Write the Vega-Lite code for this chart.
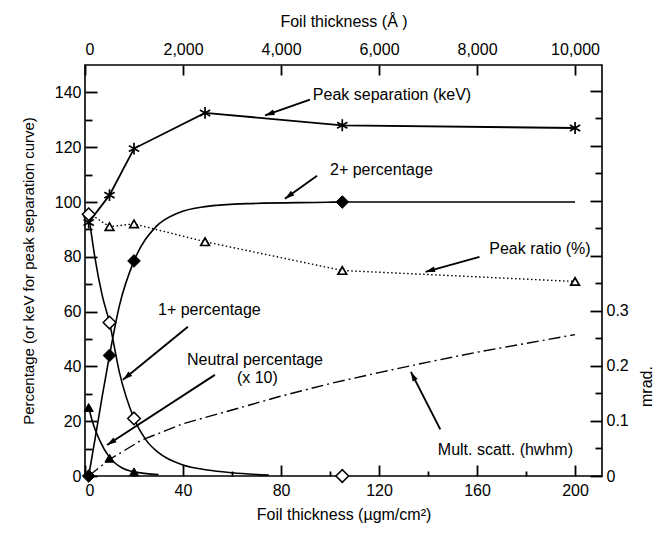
{
  "$schema": "https://vega.github.io/schema/vega-lite/v6.json",
  "width": 517,
  "height": 411,
  "autosize": {"type": "none"},
  "padding": {"left": 85, "top": 65, "right": 63, "bottom": 57},
  "config": {
    "view": {"stroke": "black", "strokeWidth": 1.6},
    "font": "Liberation Sans",
    "axis": {
      "domain": false,
      "ticks": true, "tickOpacity": 1, "zindex": 1,
      "tickColor": "black", "tickWidth": 1.8,
      "labelColor": "black", "titleColor": "black",
      "labelFontSize": 16, "titleFontSize": 16, "titleFontWeight": "normal",
      "labelFont": "Liberation Sans", "titleFont": "Liberation Sans",
      "grid": false
    },
    "text": {"font": "Liberation Sans"}
  },
  "datasets": {
    "markers": [
      {"s": "peak", "x": 1.5, "y": 92.5}, {"s": "peak", "x": 10, "y": 102.5}, {"s": "peak", "x": 20, "y": 119.5},
      {"s": "peak", "x": 49, "y": 132.5}, {"s": "peak", "x": 105, "y": 128}, {"s": "peak", "x": 200, "y": 127},
      {"s": "ratio", "x": 1.5, "y": 96}, {"s": "ratio", "x": 10, "y": 91}, {"s": "ratio", "x": 20, "y": 92},
      {"s": "ratio", "x": 49, "y": 85.5}, {"s": "ratio", "x": 105, "y": 75}, {"s": "ratio", "x": 200, "y": 71},
      {"s": "one", "x": 1.5, "y": 95.5}, {"s": "one", "x": 10, "y": 56}, {"s": "one", "x": 20, "y": 21}, {"s": "one", "x": 105, "y": 0},
      {"s": "two", "x": 1.5, "y": 0}, {"s": "two", "x": 10, "y": 44}, {"s": "two", "x": 20, "y": 78.5}, {"s": "two", "x": 105, "y": 100},
      {"s": "neutral", "x": 1.5, "y": 25}, {"s": "neutral", "x": 10, "y": 6.5}, {"s": "neutral", "x": 20, "y": 1.5}
    ],
    "curves": [
      {"s": "one", "x": 1.5, "y": 95.5}, {"s": "one", "x": 4, "y": 80}, {"s": "one", "x": 7, "y": 66}, {"s": "one", "x": 10, "y": 56},
      {"s": "one", "x": 14, "y": 38}, {"s": "one", "x": 20, "y": 21}, {"s": "one", "x": 25, "y": 13}, {"s": "one", "x": 30, "y": 8.5},
      {"s": "one", "x": 40, "y": 4}, {"s": "one", "x": 50, "y": 2.2}, {"s": "one", "x": 60, "y": 1.2}, {"s": "one", "x": 75, "y": 0.3},
      {"s": "two", "x": 1.5, "y": 0}, {"s": "two", "x": 4, "y": 13}, {"s": "two", "x": 7, "y": 29}, {"s": "two", "x": 10, "y": 44},
      {"s": "two", "x": 14, "y": 62}, {"s": "two", "x": 20, "y": 78.5}, {"s": "two", "x": 29, "y": 91}, {"s": "two", "x": 38, "y": 96},
      {"s": "two", "x": 49, "y": 98.3}, {"s": "two", "x": 66, "y": 99.4}, {"s": "two", "x": 99, "y": 99.9}, {"s": "two", "x": 105, "y": 100},
      {"s": "two", "x": 200, "y": 100},
      {"s": "neutral", "x": 1.5, "y": 25}, {"s": "neutral", "x": 3, "y": 20}, {"s": "neutral", "x": 6, "y": 13}, {"s": "neutral", "x": 10, "y": 6.8},
      {"s": "neutral", "x": 15, "y": 3}, {"s": "neutral", "x": 20, "y": 1.5}, {"s": "neutral", "x": 30, "y": 0.5}
    ],
    "mult": [
      {"x": 1.5, "m": 0.0}, {"x": 10, "m": 0.03}, {"x": 23, "m": 0.065}, {"x": 40, "m": 0.095},
      {"x": 60, "m": 0.12}, {"x": 79, "m": 0.144}, {"x": 100, "m": 0.168}, {"x": 120, "m": 0.188},
      {"x": 140, "m": 0.207}, {"x": 160, "m": 0.225}, {"x": 180, "m": 0.241}, {"x": 200, "m": 0.257}
    ],
    "notes": [
      {"t": "Peak separation (keV)", "x": 93, "y": 138.9},
      {"t": "2+  percentage", "x": 100, "y": 111.8},
      {"t": "Peak ratio (%)", "x": 165, "y": 83},
      {"t": "1+  percentage", "x": 29.8, "y": 60.7},
      {"t": "Neutral  percentage", "x": 41.6, "y": 42.4},
      {"t": "(x 10)", "x": 62, "y": 35.8},
      {"t": "Mult. scatt.  (hwhm)", "x": 144, "y": 9.5}
    ],
    "arrows": [
      {"x": 91.8, "y": 137.4, "x2": 73.5, "y2": 131.6},
      {"x": 94.7, "y": 109.6, "x2": 81.6, "y2": 101.2},
      {"x": 161, "y": 80, "x2": 139, "y2": 74.5},
      {"x": 42, "y": 54.5, "x2": 15.5, "y2": 35.1},
      {"x": 53, "y": 36.9, "x2": 9, "y2": 11.3},
      {"x": 145, "y": 17, "x2": 133, "y2": 38}
    ],
    "dummy": [{"x": 100, "y": 50, "a": 5000, "m": 0.3}]
  },
  "layer": [
    {
      "encoding": {
        "x": {"field": "x", "type": "quantitative",
          "scale": {"domain": [0, 211], "nice": false, "zero": false},
          "axis": {"orient": "bottom", "values": [0, 40, 80, 120, 160, 200],
            "offset": -11, "tickSize": 11, "labelPadding": 6, "titlePadding": 8,
            "title": "Foil thickness     (µgm/cm²)"}},
        "y": {"field": "y", "type": "quantitative",
          "scale": {"domain": [0, 150], "nice": false, "zero": false},
          "axis": {"orient": "left", "values": [0, 20, 40, 60, 80, 100, 120, 140],
            "offset": -12, "tickSize": 12, "labelPadding": 4, "titlePadding": 18, "titleFontSize": 15,
            "title": "Percentage  (or keV for peak separation curve)"}}
      },
      "layer": [
        {"data": {"name": "curves"}, "mark": {"type": "line", "interpolate": "monotone", "color": "black", "strokeWidth": 1.6},
          "encoding": {"detail": {"field": "s"}}},
        {"data": {"name": "markers"}, "transform": [{"filter": "datum.s === 'peak'"}],
          "mark": {"type": "line", "color": "black", "strokeWidth": 1.8}},
        {"data": {"name": "markers"}, "transform": [{"filter": "datum.s === 'ratio'"}],
          "mark": {"type": "line", "color": "black", "strokeWidth": 1.4, "strokeDash": [1.5, 2.5]}},
        {"data": {"name": "arrows"}, "mark": {"type": "rule", "color": "black", "strokeWidth": 1.9},
          "encoding": {"x2": {"field": "x2"}, "y2": {"field": "y2"}}},
        {"data": {"name": "arrows"},
          "transform": [{"calculate": "atan2((datum.x2 - datum.x) * 2.45, (datum.y2 - datum.y) * 2.736) * 180 / PI", "as": "ang"}],
          "mark": {"type": "point", "shape": "M0,0L0.55,1.8L-0.55,1.8Z", "filled": true, "color": "black", "size": 110, "opacity": 1},
          "encoding": {"x": {"field": "x2", "type": "quantitative"}, "y": {"field": "y2", "type": "quantitative"},
            "angle": {"field": "ang", "type": "quantitative", "scale": null}}},
        {"data": {"name": "markers"}, "transform": [{"filter": "datum.s === 'peak'"}],
          "mark": {"type": "point", "shape": "M0,-1L0,1M-0.87,-0.5L0.87,0.5M-0.87,0.5L0.87,-0.5", "filled": false, "stroke": "black", "strokeWidth": 1.7, "size": 140, "opacity": 1}},
        {"data": {"name": "markers"}, "transform": [{"filter": "datum.s === 'ratio'"}],
          "mark": {"type": "point", "shape": "triangle-up", "filled": true, "fill": "white", "stroke": "black", "strokeWidth": 1.7, "size": 75, "opacity": 1}},
        {"data": {"name": "markers"}, "transform": [{"filter": "datum.s === 'one'"}],
          "mark": {"type": "point", "shape": "diamond", "filled": true, "fill": "white", "stroke": "black", "strokeWidth": 1.5, "size": 160, "opacity": 1}},
        {"data": {"name": "markers"}, "transform": [{"filter": "datum.s === 'two'"}],
          "mark": {"type": "point", "shape": "diamond", "filled": true, "fill": "black", "stroke": "black", "strokeWidth": 1, "size": 160, "opacity": 1}},
        {"data": {"name": "markers"}, "transform": [{"filter": "datum.s === 'neutral'"}],
          "mark": {"type": "point", "shape": "triangle-up", "filled": true, "fill": "black", "stroke": "black", "strokeWidth": 1, "size": 85, "opacity": 1}},
        {"data": {"name": "notes"},
          "mark": {"type": "text", "align": "left", "baseline": "middle", "fontSize": 16, "color": "black"},
          "encoding": {"text": {"field": "t"}}}
      ]
    },
    {
      "data": {"name": "dummy"},
      "mark": {"type": "point", "opacity": 0},
      "encoding": {
        "x": {"field": "x", "type": "quantitative", "scale": {"domain": [0, 211], "nice": false, "zero": false},
          "axis": {"orient": "bottom", "values": [20, 60, 100, 140, 180], "offset": -5, "tickSize": 5, "labels": false, "title": null}},
        "y": {"field": "y", "type": "quantitative", "scale": {"domain": [0, 150], "nice": false, "zero": false},
          "axis": {"orient": "left", "values": [10, 30, 50, 70, 90, 110, 130], "offset": -7, "tickSize": 7, "labels": false, "title": null}}
      }
    },
    {
      "data": {"name": "mult"},
      "mark": {"type": "line", "color": "black", "strokeWidth": 1.4, "strokeDash": [12, 4, 2, 4]},
      "encoding": {
        "x": {"field": "x", "type": "quantitative", "scale": {"domain": [0, 211], "nice": false, "zero": false}, "axis": null},
        "y": {"field": "m", "type": "quantitative", "scale": {"domain": [0, 0.747], "nice": false, "zero": false},
          "axis": {"orient": "right",
            "values": [0, 0.1, 0.2, 0.3, 0.4, 0.5, 0.6, 0.7],
            "labelExpr": "datum.value === 0 ? '0' : (datum.value < 0.31 ? format(datum.value, '.1f') : '')",
            "offset": -12, "tickSize": 12, "labelPadding": 4,
            "title": "mrad.", "titleAngle": 270, "titleBaseline": "middle", "titleAlign": "center", "titleX": 56, "titleY": 321}}
      }
    },
    {
      "data": {"name": "dummy"},
      "mark": {"type": "point", "opacity": 0},
      "encoding": {
        "x": {"field": "a", "type": "quantitative", "scale": {"domain": [0, 10550], "nice": false, "zero": false},
          "axis": {"orient": "top", "values": [0, 2000, 4000, 6000, 8000, 10000], "format": ",d",
            "offset": -10, "tickSize": 10, "labelPadding": 8, "titlePadding": 12,
            "title": "Foil thickness     (Å )"}},
        "y": {"field": "m", "type": "quantitative", "scale": {"domain": [0, 0.747], "nice": false, "zero": false},
          "axis": {"orient": "right", "values": [0.05, 0.15, 0.25, 0.35, 0.45, 0.55, 0.65], "offset": -7, "tickSize": 7, "labels": false, "title": null}}
      }
    }
  ],
  "resolve": {"scale": {"x": "independent", "y": "independent"}}
}
